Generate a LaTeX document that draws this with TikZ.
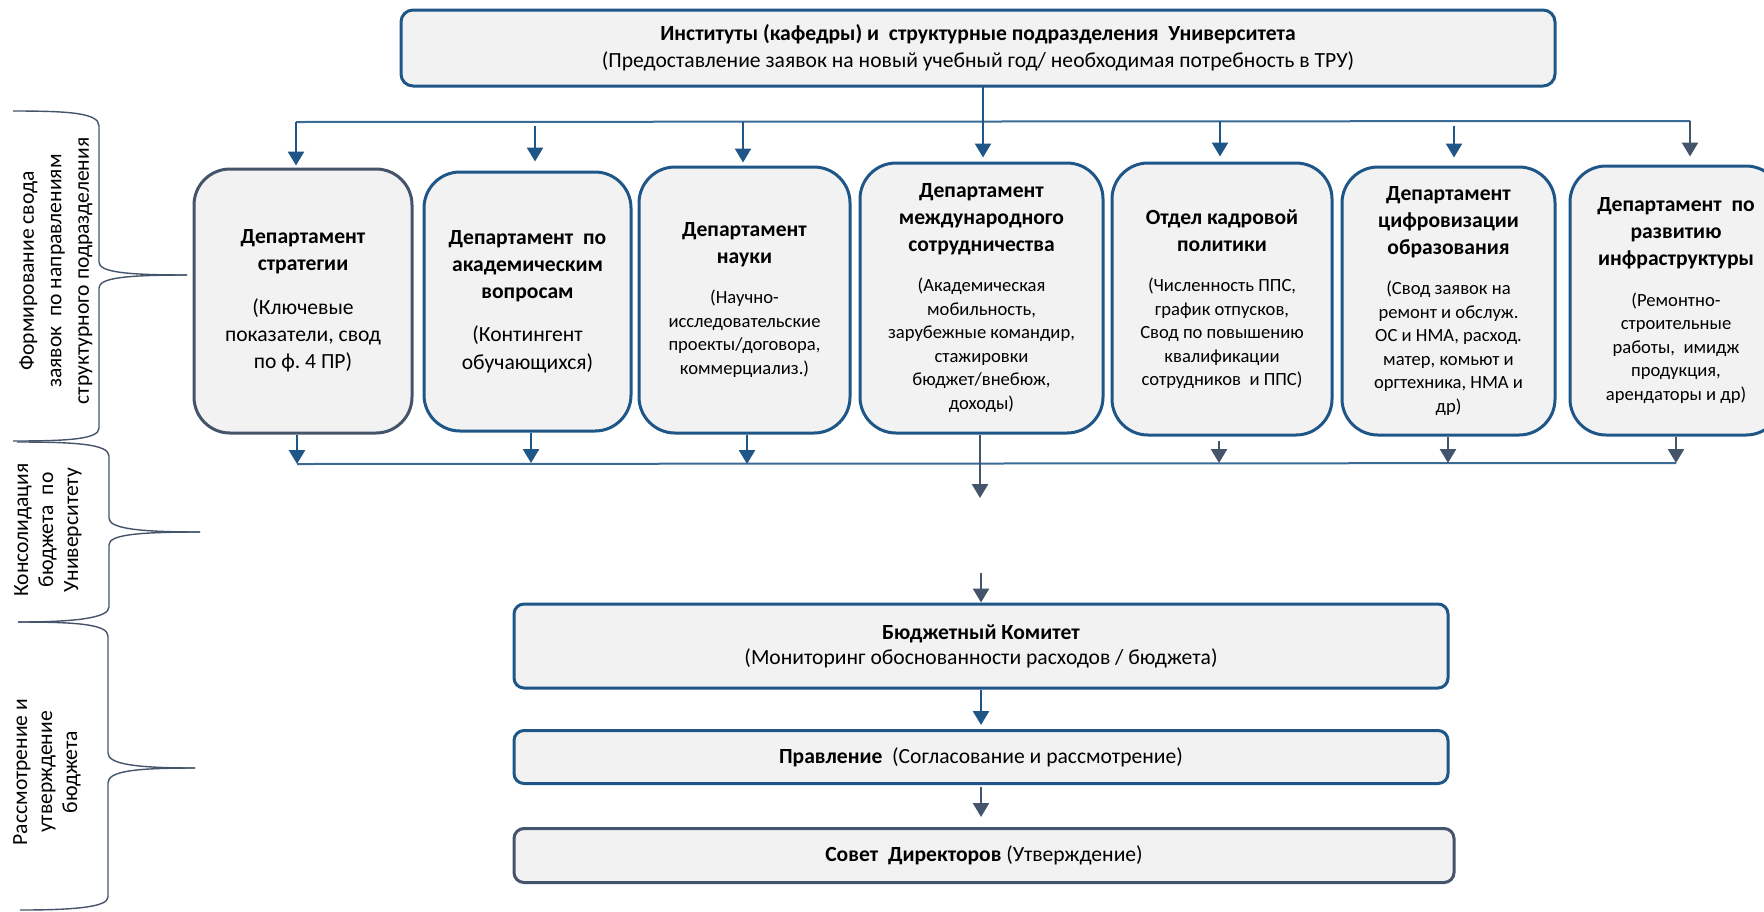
\documentclass[tikz,border=0pt]{standalone}
\usepackage{fontspec}
\setmainfont{Carlito}
\usetikzlibrary{arrows.meta}
\definecolor{bblue}{HTML}{1F5688}
\definecolor{bgray}{HTML}{44546A}
\definecolor{lblue}{HTML}{3A6A96}
\definecolor{boxfill}{HTML}{F2F2F2}
\newcommand{\ttl}[1]{{\fontsize{10.8pt}{13.5pt}\selectfont\bfseries #1\par}}
\newcommand{\bda}[1]{\vspace{8pt}{\fontsize{10.8pt}{13.65pt}\selectfont #1\par}}
\newcommand{\bdb}[1]{\vspace{8.5pt}{\fontsize{9.3pt}{11.75pt}\selectfont #1\par}}
\begin{document}
\frenchspacing
\begin{tikzpicture}[x=0.5pt,y=-0.5pt,
  dept/.style={draw=bblue, line width=1.5pt, fill=boxfill, rounded corners=18pt, inner sep=0pt, align=flush center},
  wide/.style={draw=bblue, line width=1.5pt, fill=boxfill, rounded corners=5pt, inner sep=0pt, align=center, font=\fontsize{10.8}{13.75}\selectfont},
  side/.style={rotate=90, align=center, inner sep=0pt},
  bus/.style={draw=lblue, line width=1pt},
  arrb/.style={draw=bblue, line width=1.3pt, -{Triangle[width=8pt,length=7pt]}},
  arrg/.style={draw=bgray, line width=1.3pt, -{Triangle[width=8pt,length=7pt]}},
  brace/.style={draw=bgray, line width=0.7pt},
]
\useasboundingbox (0,0) rectangle (1764,911);
\clip (0,0) rectangle (1764,911);
\fill[white] (0,0) rectangle (1764,911);

% top box
\node[wide, rounded corners=6pt, minimum width=577pt, minimum height=38pt] (top) at (978,48)
  {\textbf{Институты (кафедры) и~ структурные подразделения~ Университета}\\(Предоставление заявок на новый учебный год/ необходимая потребность в ТРУ)};

% departments
\node[dept, draw=bgray, minimum width=109pt, minimum height=132pt, text width=103pt] (d1) at (303,301)
  {\ttl{Департамент\\стратегии}\bda{(Ключевые\\показатели, свод\\по ф. 4 ПР)}};
\node[dept, minimum width=103.5pt, minimum height=129.5pt, text width=98pt] (d2) at (527.5,301.5)
  {\ttl{Департамент~ по\\академическим\\вопросам}\bda{(Контингент\\обучающихся)}};
\node[dept, minimum width=105.5pt, minimum height=133pt, text width=100pt] (d3) at (744.5,300)
  {\ttl{Департамент\\науки}\bdb{(Научно-\\исследовательские\\проекты/договора,\\коммерциализ.)}};
\node[dept, minimum width=121.5pt, minimum height=135pt, text width=116pt] (d4) at (981.5,298)
  {\ttl{Департамент\\международного\\сотрудничества}\bdb{(Академическая\\мобильность,\\зарубежные командир,\\стажировки\\бюджет/внебюж,\\доходы)}};
\node[dept, minimum width=110pt, minimum height=136pt, text width=104pt] (d5) at (1222,299)
  {\ttl{Отдел кадровой\\политики}\bdb{(Численность ППС,\\график отпусков,\\Свод по повышению\\квалификации\\сотрудников~ и ППС)}};
\node[dept, minimum width=106.5pt, minimum height=134pt, text width=101pt] (d6) at (1448.5,301)
  {\ttl{Департамент\\цифровизации\\образования}\bdb{(Свод заявок на\\ремонт и обслуж.\\ОС и НМА, расход.\\матер, комьют и\\оргтехника, НМА и\\др)}};
\node[dept, minimum width=106pt, minimum height=134.5pt, text width=100pt] (d7) at (1676,300.5)
  {\ttl{Департамент~ по\\развитию\\инфраструктуры}\bdb{(Ремонтно-\\строительные\\работы,~ имидж\\продукция,\\арендаторы и др)}};

% lower boxes
\node[wide, font=\fontsize{10.8}{12.5}\selectfont, minimum width=467pt, minimum height=42pt] (bk) at (981,646)
  {\textbf{Бюджетный Комитет}\\(Мониторинг обоснованности расходов / бюджета)};
\node[wide, minimum width=467pt, minimum height=26.5pt] (pr) at (981,757)
  {\textbf{Правление}~ (Согласование и рассмотрение)};
\node[wide, draw=bgray, minimum width=470pt, minimum height=27pt] (sd) at (984,855.5)
  {\textbf{Совет~ Директоров} (Утверждение)};

% top bus
\coordinate (bL) at (296,122);
\coordinate (bR) at (1690,121);
\draw[bus] (bL) -- (bR);
\draw[arrb, shorten >=1pt] (bL) -- (bL |- d1.north);
\coordinate (s2) at (535,126);
\draw[arrb, shorten >=4.5pt] (s2) -- (s2 |- d2.north);
\coordinate (s3) at (743,122);
\draw[arrb, shorten >=1.5pt] (s3) -- (s3 |- d3.north);
\coordinate (s4) at (983,86);
\draw[arrb, shorten >=2pt] (s4) -- (s4 |- d4.north);
\coordinate (s5) at (1220,121);
\draw[arrb, shorten >=2.5pt] (s5) -- (s5 |- d5.north);
\coordinate (s6) at (1454,126);
\draw[arrb, shorten >=4pt] (s6) -- (s6 |- d6.north);
\draw[arrg, shorten >=4pt] (bR) -- (bR |- d7.north);

% bottom bus
\coordinate (cL) at (297,464);
\coordinate (cR) at (1676,463);
\draw[bus] (cL) -- (cR);
\draw[arrb] (d1.south -| cL) -- (cL);
\coordinate (e2) at (531,463);
\draw[arrb] (d2.south -| e2) -- (e2);
\coordinate (e3) at (747,464);
\draw[arrb] (d3.south -| e3) -- (e3);
\coordinate (e4) at (980,498);
\draw[arrg] (d4.south -| e4) -- (e4);
\coordinate (e5) at (1219,463);
\draw[arrg, shorten <=2pt] (d5.south -| e5) -- (e5);
\coordinate (e6) at (1448,463);
\draw[arrg] (d6.south -| e6) -- (e6);
\draw[arrg] (d7.south -| cR) -- (cR);

% lower chain
\coordinate (f1) at (981,573);
\draw[arrg] (f1) -- (f1 |- bk.north);
\draw[arrb, shorten >=2pt] (bk.south) -- (pr.north);
\coordinate (f3) at (981,787);
\draw[arrg, shorten >=5pt] (f3) -- (f3 |- sd.north);

% side labels
\node[side, font=\fontsize{10.8}{13.75}\selectfont] (t1) at (56,271)
  {Формирование свода\\заявок~ по направлениям\\структурного подразделения};
\node[side, font=\fontsize{10.8}{12.5}\selectfont] (t2) at (48,530)
  {Консолидация\\бюджета~ по\\Университету};
\node[side, font=\fontsize{10.8}{12.5}\selectfont] (t3) at (47,772)
  {Рассмотрение и\\утверждение\\бюджета};

% braces
\draw[brace] (13,111) .. controls (70,111) and (99,113) .. (99,126) -- (99,262)
  .. controls (99,272) and (125,275) .. (187,275);
\draw[brace] (187,275) .. controls (125,275) and (99,278) .. (99,288) -- (99,428)
  .. controls (99,439) and (70,441) .. (13,441);
\draw[brace] (17,442) .. controls (75,442) and (109,444) .. (109,456) -- (109,518)
  .. controls (109,528) and (135,532) .. (200,532);
\draw[brace] (200,532) .. controls (135,532) and (109,535) .. (109,545) -- (109,607)
  .. controls (109,618) and (75,622) .. (18,622);
\draw[brace] (18,622) .. controls (75,622) and (108,624) .. (108,636) -- (108,753)
  .. controls (108,764) and (135,768) .. (195,768);
\draw[brace] (195,768) .. controls (135,768) and (108,771) .. (108,783) -- (108,897)
  .. controls (108,907) and (75,910) .. (20,910);
\end{tikzpicture}
\end{document}
